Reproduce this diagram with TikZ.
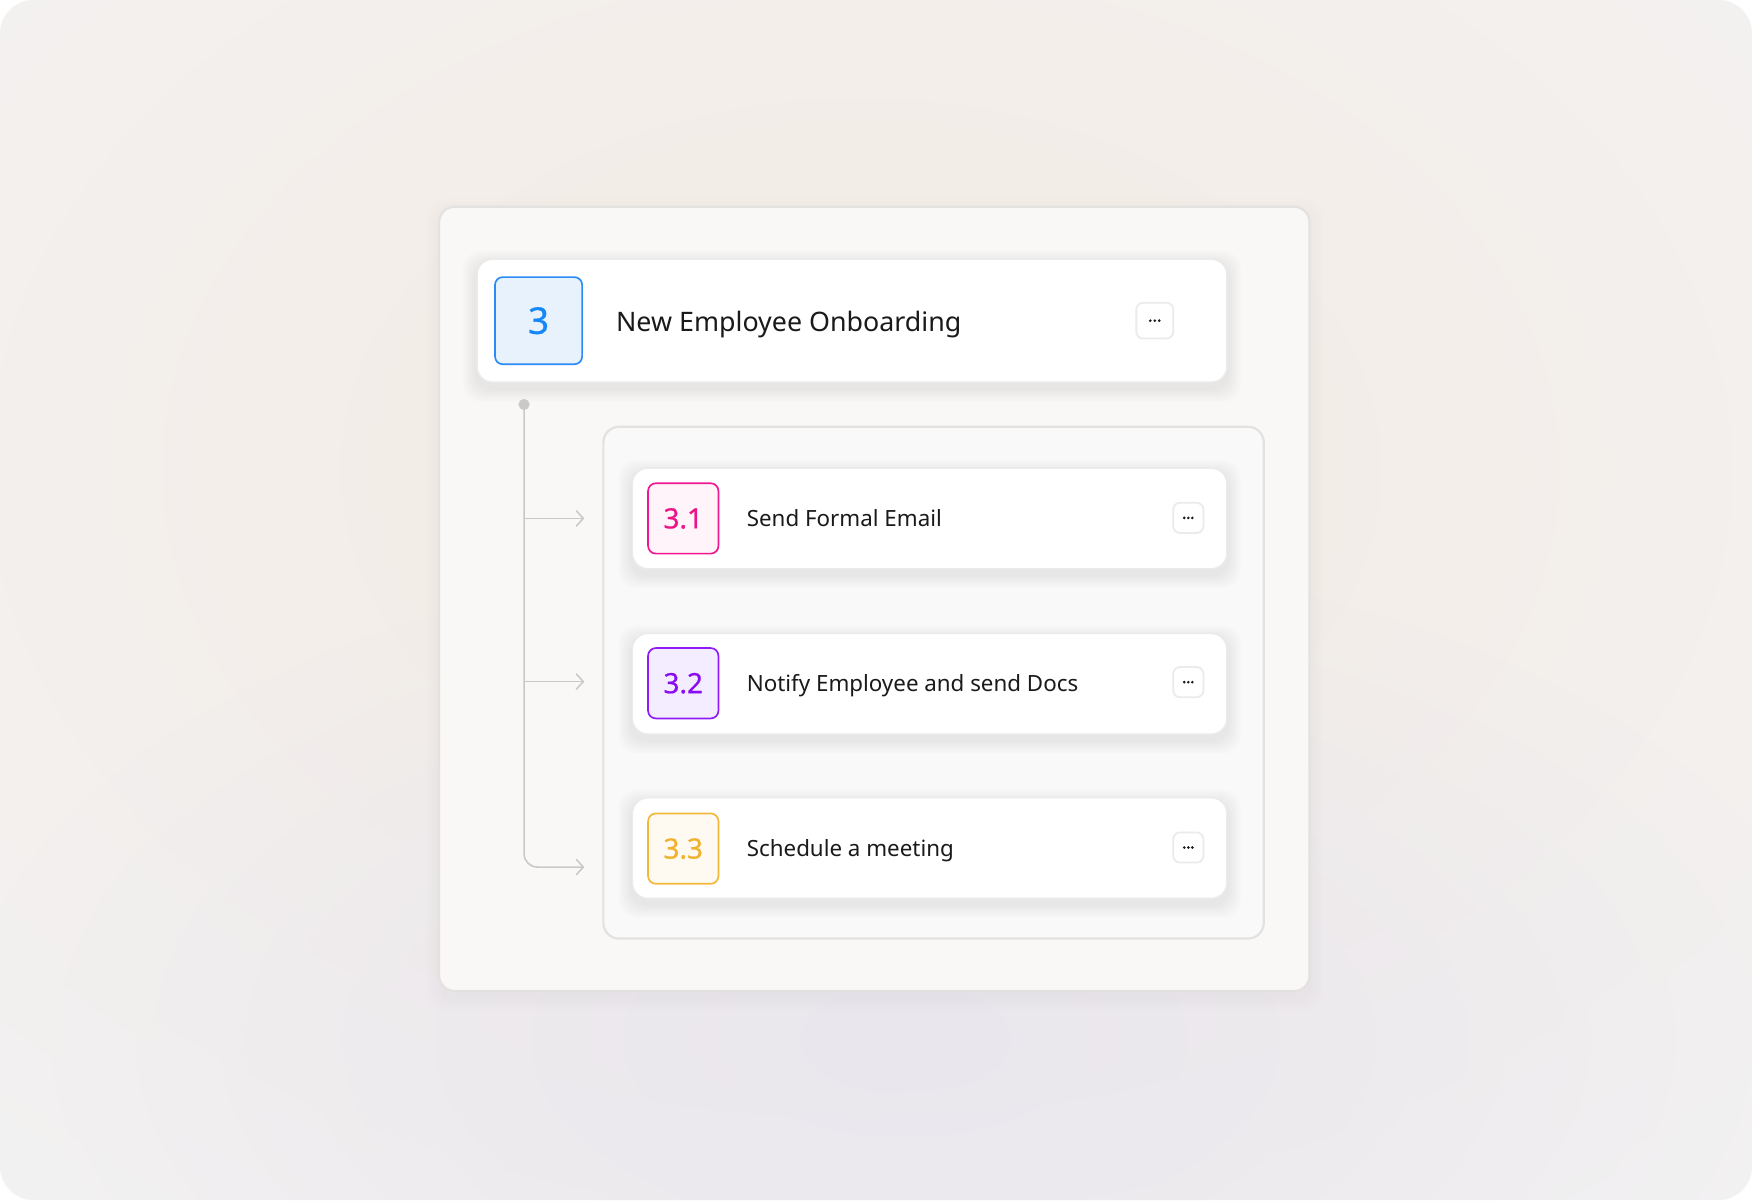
\documentclass[tikz,border=0pt]{standalone}
\usepackage{fontspec}
\setmainfont{Noto Sans}
\newfontfamily\badgefont[FakeBold=0.7]{Noto Sans}
\usetikzlibrary{arrows.meta,fadings}
\definecolor{bgbase}{HTML}{F4F4F6}
\definecolor{bgwarm}{HTML}{F3EBE3}
\definecolor{bglav}{HTML}{E9E6EE}
\definecolor{panelfill}{HTML}{FAF8F6}
\definecolor{innerfill}{HTML}{FAF9F9}
\definecolor{panelline}{HTML}{E4E2E1}
\definecolor{cardline}{HTML}{EBEBEB}
\definecolor{conn}{HTML}{C9C9C9}
\definecolor{ink}{HTML}{1A1A1A}
\definecolor{blueB}{HTML}{2A8CF6}
\definecolor{blueF}{HTML}{E8F2FD}
\definecolor{blueT}{HTML}{1687F9}
\definecolor{pinkB}{HTML}{F0178F}
\definecolor{pinkF}{HTML}{FFF4FA}
\definecolor{pinkT}{HTML}{EE1289}
\definecolor{purpB}{HTML}{8F1CF4}
\definecolor{purpF}{HTML}{F4EDFF}
\definecolor{purpT}{HTML}{8A0DF2}
\definecolor{ambB}{HTML}{F3B73A}
\definecolor{ambF}{HTML}{FEF9F1}
\definecolor{ambT}{HTML}{F1B12C}
\tikzfading[name=glowfade, inner color=transparent!0, outer color=transparent!100]
\tikzset{
  panelbox/.style={draw=panelline, line width=1pt, rounded corners=7pt, inner sep=0pt},
  cardbox/.style={draw=cardline, line width=0.6pt, fill=white, rounded corners=7pt, inner sep=0pt},
  badgebox/.style={line width=0.75pt, rounded corners=3.5pt, inner sep=0pt, minimum width=31.5pt, minimum height=31.5pt, font=\badgefont\fontsize{12.5}{14}\selectfont},
  dotbtn/.style={draw=cardline, line width=0.8pt, fill=white, rounded corners=3pt, inner sep=0pt, minimum width=13.5pt, minimum height=13.5pt},
  sublabel/.style={anchor=base west, inner sep=0pt, text=ink, font=\fontsize{10}{12}\selectfont},
  connline/.style={draw=conn, line width=0.7pt},
  connarrow/.style={connline, -{Straight Barb[length=3.2pt,width=7pt,line width=0.7pt]}}
}
\newcommand{\softshadow}[2]{%
  \foreach \g/\ls/\us in {1pt/-3.5pt/-1.5pt, 2pt/-4.5pt/-0.5pt, 3pt/-5.5pt/0.5pt, 4pt/-6.5pt/1.5pt, 5pt/-7.5pt/2.5pt, 6pt/-8.5pt/3.5pt}{%
    \fill[black, opacity=#2, rounded corners=8pt]
      ([xshift=-\g, yshift=\ls]#1.south west) rectangle ([xshift=\g, yshift=\us]#1.north east);
  }%
}
\newcommand{\threedots}[2]{%
  \foreach \d in {-1,0,1}{\fill[ink] ([xshift=\d*#2]#1.center) circle (0.65pt);}%
}
\begin{document}
\begin{tikzpicture}[x=0.5pt,y=-0.5pt]
\useasboundingbox (0,0) rectangle (1568,1074);
\fill[white] (0,0) rectangle (1568,1074);
\begin{scope}
  \clip[rounded corners=15pt] (0,0) rectangle (1568,1074);
  \fill[bgbase] (0,0) rectangle (1568,1074);
  \fill[bgwarm, path fading=glowfade] (770,420) ellipse [x radius=700pt, y radius=500pt];
  \fill[bglav, path fading=glowfade] (810,930) ellipse [x radius=420pt, y radius=220pt];
\end{scope}

% outer panel
\path (782.5,536) node[minimum width=389.5pt, minimum height=351pt, inner sep=0pt] (outershadow) {};
\softshadow{outershadow}{0.005}
\node[panelbox, fill=panelfill, minimum width=389.5pt, minimum height=351pt] (outer) at (782.5,536) {};

% top card
\path (762.5,287) node[minimum width=335.5pt, minimum height=55pt, inner sep=0pt] (topshadow) {};
\softshadow{topshadow}{0.011}
\node[cardbox, minimum width=335.5pt, minimum height=55pt] (top) at (762.5,287) {};
\node[badgebox, draw=blueB, fill=blueF, text=blueT, minimum width=39pt, minimum height=39pt, font=\badgefont\fontsize{16.5}{18}\selectfont] (b3) at (482,287) {3};
\node[sublabel, font=\fontsize{12}{14}\selectfont] (t3) at (551,296.5) {New Employee Onboarding};
\node[dotbtn, minimum width=16.5pt, minimum height=16pt] (d3) at (1033.5,287) {};
\threedots{d3}{2pt}

% inner panel
\node[panelbox, fill=innerfill, minimum width=295.5pt, minimum height=229pt] (inner) at (835.5,611) {};

% sub cards
\path (832,464) node[minimum width=266pt, minimum height=45pt, inner sep=0pt] (s1) {};
\path (832,612) node[minimum width=266pt, minimum height=45pt, inner sep=0pt] (s2) {};
\path (832,759) node[minimum width=266pt, minimum height=45pt, inner sep=0pt] (s3) {};
\softshadow{s1}{0.011}
\softshadow{s2}{0.011}
\softshadow{s3}{0.011}
\node[cardbox, minimum width=266pt, minimum height=45pt] (c1) at (832,464) {};
\node[cardbox, minimum width=266pt, minimum height=45pt] (c2) at (832,612) {};
\node[cardbox, minimum width=266pt, minimum height=45pt] (c3) at (832,759) {};

\node[badgebox, draw=pinkB, fill=pinkF, text=pinkT] (b31) at (611.5,464) {3.1};
\node[badgebox, draw=purpB, fill=purpF, text=purpT] (b32) at (611.5,611.5) {3.2};
\node[badgebox, draw=ambB, fill=ambF, text=ambT] (b33) at (611.5,759.5) {3.3};

\node[sublabel] (t31) at (668,471) {Send Formal Email};
\node[sublabel] (t32) at (668,618.5) {Notify Employee and send Docs};
\node[sublabel] (t33) at (668,766.5) {Schedule a meeting};

\node[dotbtn] (d31) at (1063.5,463.5) {};
\node[dotbtn] (d32) at (1063.5,610.5) {};
\node[dotbtn] (d33) at (1063.5,758.5) {};
\threedots{d31}{1.8pt}
\threedots{d32}{1.8pt}
\threedots{d33}{1.8pt}

% connectors
\coordinate (root) at (469,362);
\coordinate (j1) at (469,464);
\coordinate (j2) at (469,610);
\coordinate (a1) at (523,464);
\coordinate (a2) at (523,610);
\coordinate (a3) at (523,776);
\fill[conn] (root) circle (2.5pt);
\draw[connarrow, rounded corners=6pt] (root) |- (a3);
\draw[connarrow] (j1) -- (a1);
\draw[connarrow] (j2) -- (a2);
\end{tikzpicture}
\end{document}
